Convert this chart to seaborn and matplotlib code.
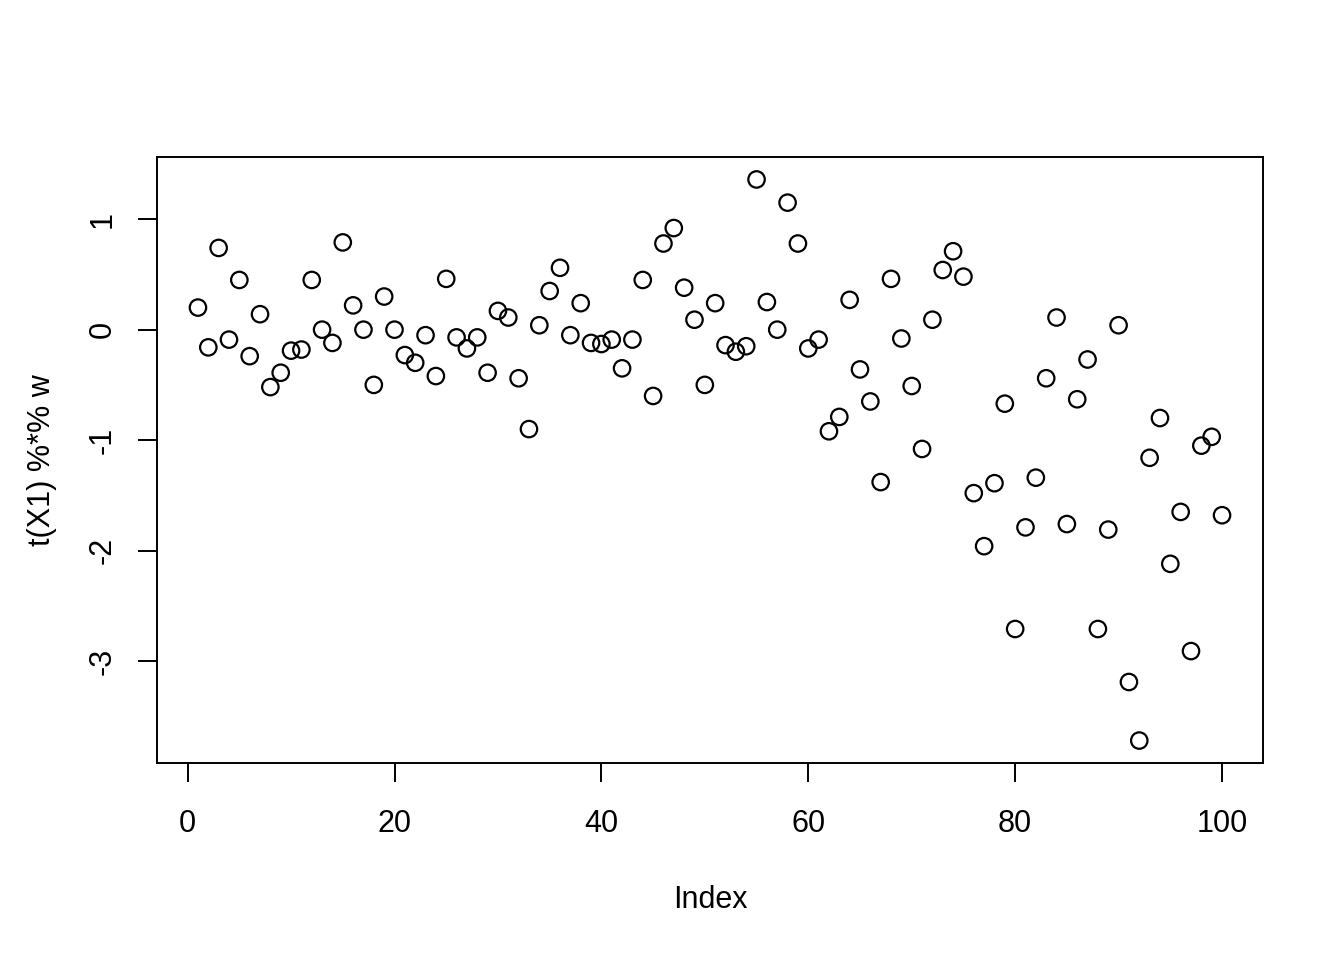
import numpy as np
import pandas as pd
import matplotlib
matplotlib.use("Agg")
import matplotlib.pyplot as plt
import seaborn as sns

index = list(range(1, 101))
values = [
    0.20, -0.16, 0.74, -0.09, 0.45, -0.24, 0.14, -0.52, -0.39, -0.19,
    -0.18, 0.45, 0.00, -0.12, 0.79, 0.22, 0.00, -0.50, 0.30, 0.00,
    -0.23, -0.30, -0.05, -0.42, 0.46, -0.07, -0.17, -0.07, -0.39, 0.17,
    0.11, -0.44, -0.90, 0.04, 0.35, 0.56, -0.05, 0.24, -0.12, -0.13,
    -0.09, -0.35, -0.09, 0.45, -0.60, 0.78, 0.92, 0.38, 0.09, -0.50,
    0.24, -0.14, -0.20, -0.15, 1.36, 0.25, 0.00, 1.15, 0.78, -0.17,
    -0.09, -0.92, -0.79, 0.27, -0.36, -0.65, -1.38, 0.46, -0.08, -0.51,
    -1.08, 0.09, 0.54, 0.71, 0.48, -1.48, -1.96, -1.39, -0.67, -2.71,
    -1.79, -1.34, -0.44, 0.11, -1.76, -0.63, -0.27, -2.71, -1.81, 0.04,
    -3.19, -3.72, -1.16, -0.80, -2.12, -1.65, -2.91, -1.05, -0.97, -1.68,
]
x_ticks = [0, 20, 40, 60, 80, 100]
y_ticks = [-3, -2, -1, 0, 1]

df = pd.DataFrame({"Index": index, "value": values})

sns.set_style("ticks")
plt.rcParams["font.family"] = ["Liberation Sans", "DejaVu Sans"]

fig = plt.figure(figsize=(13.44, 9.6), dpi=100)
ax = fig.add_axes([157 / 1344, 1 - 763 / 960, (1263 - 157) / 1344, (763 - 157) / 960])

sns.scatterplot(data=df, x="Index", y="value", ax=ax, marker="o",
                facecolors="none", edgecolor="black", linewidth=1.6, s=140)

xmin, xmax = min(index), max(index)
ymin, ymax = min(values), max(values)
px = (xmax - xmin) * 0.04
py = (ymax - ymin) * 0.04
ax.set_xlim(xmin - px, xmax + px)
ax.set_ylim(ymin - py, ymax + py)

ax.set_xticks(x_ticks)
ax.set_yticks(y_ticks)
ax.set_yticklabels([str(v) for v in y_ticks], rotation=90, va="center")
ax.tick_params(axis="both", labelsize=22, length=14, width=1.4, color="black",
               labelcolor="black")
ax.tick_params(axis="x", pad=19)
ax.tick_params(axis="y", pad=14)
for s in ax.spines.values():
    s.set_visible(True)
    s.set_linewidth(1.4)
    s.set_color("black")

ax.set_xlabel("Index", fontsize=22, color="black", va="center")
ax.set_ylabel("t(X1) %*% w", fontsize=22, color="black", va="center")
ax.xaxis.set_label_coords(0.5, (763 - 900) / 606)
ax.yaxis.set_label_coords((42 - 157) / 1106, 0.5)

fig.savefig("out.png", dpi=100, facecolor="white")
